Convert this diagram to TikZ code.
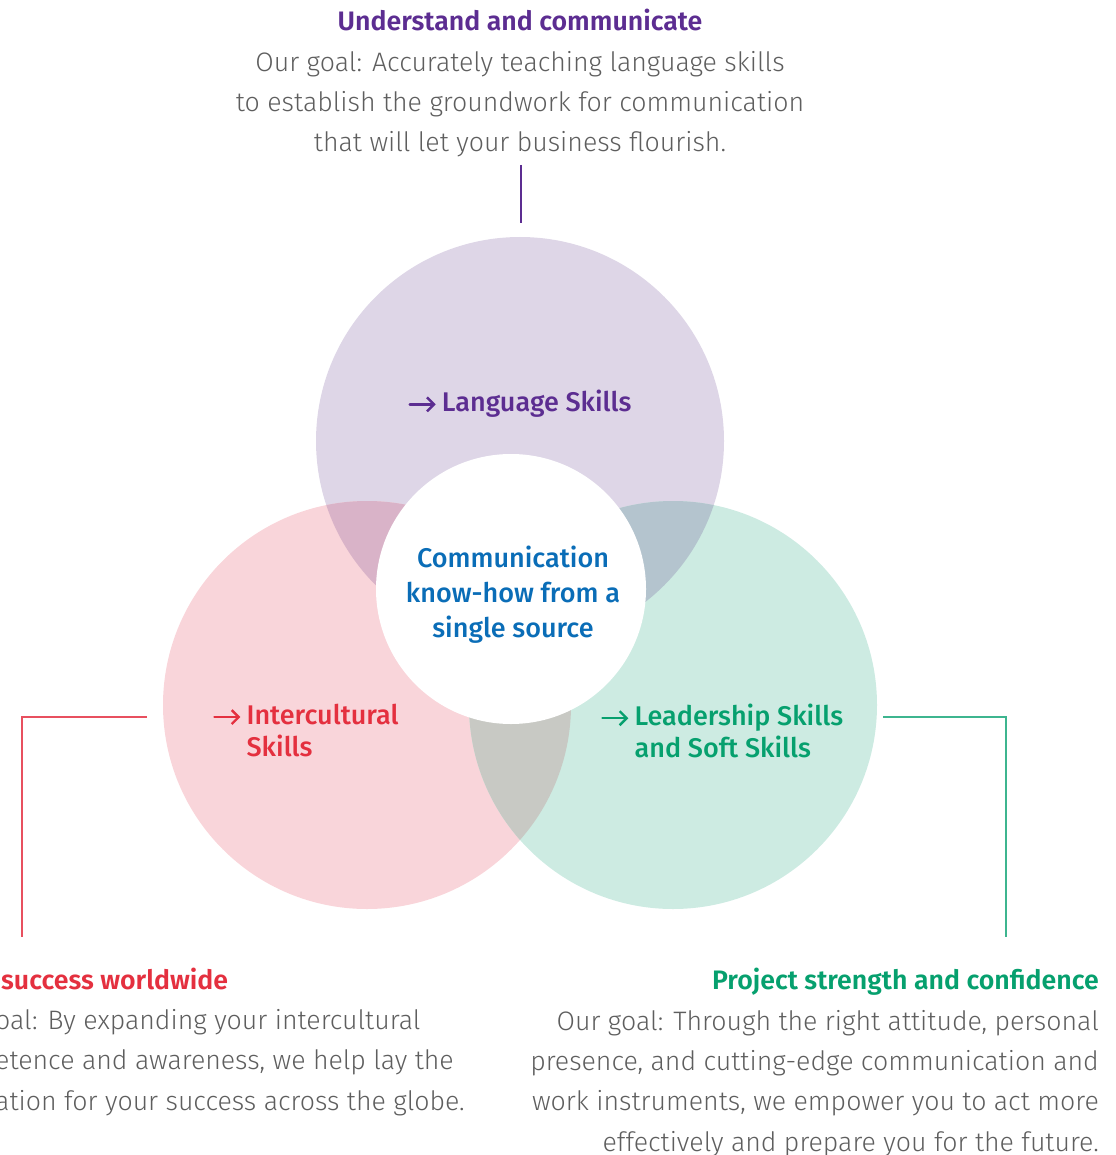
\documentclass[tikz,border=0pt]{standalone}
\usepackage{fontspec}
\usetikzlibrary{arrows.meta}
\setmainfont{Fira Sans}[UprightFont=* Light, BoldFont=* SemiBold]
\newfontfamily\medfont{Fira Sans}[UprightFont=* Medium]
\definecolor{cpurple}{HTML}{5C2D91}
\definecolor{cred}{HTML}{E4303F}
\definecolor{cgreen}{HTML}{06A06E}
\definecolor{cblue}{HTML}{0A6DB7}
\definecolor{cgray}{HTML}{5E5E5E}
\definecolor{flav}{HTML}{DED6E7}
\definecolor{fpink}{HTML}{F9D5DA}
\definecolor{fmint}{HTML}{CDEBE2}
\definecolor{flavpink}{HTML}{D9B3C8}
\definecolor{flavmint}{HTML}{B4C4CE}
\definecolor{fpinkmint}{HTML}{C8C9C4}
\definecolor{lred}{HTML}{E8505F}
\definecolor{lgreen}{HTML}{3DB58F}
\newcommand{\arr}{\tikz[baseline={(0pt,-7.5pt)}, x=1pt, y=1pt]{\draw[line width=2.4pt, line cap=round, -{Straight Barb[length=7pt,width=14pt,line width=2.4pt]}] (0pt,0pt) -- (26pt,0pt);}\kern5pt}
\tikzset{
  bigcirc/.style={circle, minimum size=408pt, inner sep=0pt, draw=none},
  body/.style={inner sep=0pt, text=cgray, font=\fontsize{26.7}{40.4}\selectfont},
  lbl/.style={inner sep=0pt, font=\medfont\fontsize{27}{32}\selectfont},
  conn/.style={line width=1.3pt},
}
\begin{document}
\begin{tikzpicture}[x=1pt,y=-1pt]
\useasboundingbox (0,0) rectangle (1115,1155);
% circles
\node[bigcirc, fill=flav] (T) at (520,441) {};
\node[bigcirc, fill=fpink] (L) at (367,705) {};
\node[bigcirc, fill=fmint] (R) at (673,705) {};
\begin{scope}
  \clip (T.center) circle (204pt);
  \fill[flavpink] (L.center) circle (204pt);
\end{scope}
\begin{scope}
  \clip (T.center) circle (204pt);
  \fill[flavmint] (R.center) circle (204pt);
\end{scope}
\begin{scope}
  \clip (L.center) circle (204pt);
  \fill[fpinkmint] (R.center) circle (204pt);
\end{scope}
\node[circle, minimum size=270pt, inner sep=0pt, fill=white] (C) at (511,589) {};
% center text
\node[lbl, text=cblue, align=center, font=\medfont\fontsize{27}{35}\selectfont] (Ct) at (513,595) {Communication\\know-how from a\\single source};
% circle labels
\node[lbl, text=cpurple, anchor=center] (Lt) at (520,404) {\arr Language Skills};
\node[lbl, text=cred, align=left, anchor=north west] (It) at (213,704) {\arr Intercultural\\\hphantom{\arr}Skills};
\node[lbl, text=cgreen, align=left, anchor=north west] (St) at (601,704) {\arr Leadership Skills\\\hphantom{\arr}and Soft Skills};
% top text
\node[body, align=center, anchor=north] (topt) at (520,9) {\textbf{\color{cpurple}Understand and communicate}\\Our goal: Accurately teaching language skills\\to establish the groundwork for communication\\that will let your business flourish.};
% bottom left
\node[body, align=left, anchor=north west] (blh) at (1,968) {\textbf{\color{cred}success worldwide}};
\node[body, align=left, anchor=north west] (blt) at (-5,1009) {oal: By expanding your intercultural\\etence and awareness, we help lay the\\ation for your success across the globe.};
% bottom right
\node[body, align=right, anchor=north east] (brt) at (1099,968) {\textbf{\color{cgreen}Project strength and confidence}\\Our goal: Through the right attitude, personal\\presence, and cutting-edge communication and\\work instruments, we empower you to act more\\effectively and prepare you for the future.};
% connectors
\coordinate (ta) at (521,165);
\coordinate (tb) at (521,223);
\draw[conn, cpurple] (ta) -- (tb);
\coordinate (la) at (147,717);
\coordinate (lb) at (22,937);
\draw[conn, lred] (la) -| (lb);
\coordinate (ra) at (883,717);
\coordinate (rb) at (1006,937);
\draw[conn, lgreen] (ra) -| (rb);
\end{tikzpicture}
\end{document}
